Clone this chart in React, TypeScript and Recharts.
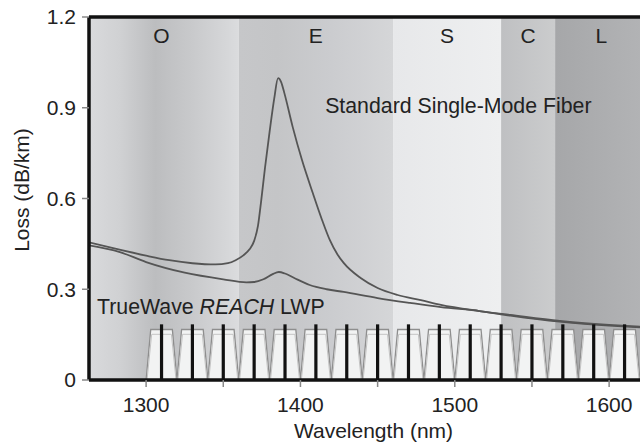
import React from 'react';
import {
  ComposedChart,
  Line,
  Area,
  XAxis,
  YAxis,
  ReferenceArea,
  ReferenceLine,
  ReferenceDot,
} from 'recharts';

// ITU bands (nm)
const bandNames = ['O', 'E', 'S', 'C', 'L'];
const bandStart = [1260, 1360, 1460, 1530, 1565];
const bandEnd = [1360, 1460, 1530, 1565, 1625];

// Standard single-mode fiber loss curve (water peak near 1385 nm)
const ssmfWl = [1263, 1280, 1300, 1315, 1330, 1345, 1353, 1358, 1363, 1367, 1370, 1372.5, 1374.5, 1377, 1380, 1383, 1385.5, 1387.5, 1389.5, 1395, 1401, 1408, 1414, 1419, 1424, 1428, 1439, 1450, 1463, 1478, 1491, 1516, 1536, 1568, 1600, 1620];
const ssmfLoss = [0.455, 0.434, 0.411, 0.396, 0.386, 0.382, 0.386, 0.396, 0.412, 0.432, 0.46, 0.51, 0.59, 0.7, 0.82, 0.93, 0.998, 0.985, 0.95, 0.836, 0.727, 0.618, 0.529, 0.463, 0.415, 0.387, 0.337, 0.304, 0.281, 0.264, 0.248, 0.228, 0.215, 0.195, 0.182, 0.176];

// TrueWave REACH low-water-peak fiber
const lwpWl = [1263, 1283, 1300, 1325, 1350, 1365, 1370, 1376, 1382, 1386, 1390, 1396, 1406, 1417, 1428, 1450, 1471, 1491, 1516, 1536, 1568, 1600, 1620];
const lwpLoss = [0.445, 0.423, 0.39, 0.355, 0.333, 0.323, 0.324, 0.333, 0.35, 0.357, 0.352, 0.337, 0.314, 0.3, 0.291, 0.271, 0.255, 0.241, 0.228, 0.213, 0.193, 0.18, 0.174];

// CWDM channel grid
const channelNm = [1310, 1330, 1350, 1370, 1390, 1410, 1430, 1450, 1470, 1490, 1510, 1530, 1550, 1570, 1590, 1610];
const channelMarkerLoss = 0.184;
const passbandOffset = [-10, -7, 7, 10];
const passbandLoss = [0, 0.167, 0.167, 0];
const innerOffset = [-9.4, -6.4, 6.4, 9.4];
const innerLoss = [0, 0.151, 0.151, 0];

const xTicks = [1300, 1350, 1400, 1450, 1500, 1550, 1600];
const yTicks = [0, 0.3, 0.6, 0.9, 1.2];

const ssmfData = ssmfWl.map((wl, i) => ({ wl, loss: ssmfLoss[i] }));
const lwpData = lwpWl.map((wl, i) => ({ wl, loss: lwpLoss[i] }));
const filterData = channelNm.flatMap((c) => passbandOffset.map((o, i) => ({ wl: c + o, loss: passbandLoss[i] })));
const innerData = channelNm.flatMap((c) => innerOffset.map((o, i) => ({ wl: c + o, loss: innerLoss[i] })));

const FONT = '"Liberation Sans", Arial, Helvetica, sans-serif';
const TEXT = '#222';
const FS = 21;

const bandStops: Record<string, [number, string][]> = {
  O: [[0, '#d9dadc'], [0.05, '#d8d9db'], [0.23, '#d0d1d3'], [0.46, '#bcbdbf'], [0.57, '#c2c3c5'], [0.69, '#c8c9cb'], [0.93, '#d6d7d9'], [1, '#dbdcde']],
  E: [[0, '#c6c7c9'], [0.25, '#c4c5c7'], [0.6, '#cbcccf'], [1, '#d5d6d8']],
  S: [[0, '#e7e8ea'], [1, '#eeeff0']],
  C: [[0, '#bfc0c2'], [1, '#cbcccd']],
  L: [[0, '#a6a7a9'], [1, '#b3b4b6']],
};

const App: React.FC = () => {
  return (
    <div style={{ width: 640, height: 443, background: '#fff' }}>
      <style>{'body{margin:0}'}</style>
      <ComposedChart width={640} height={443} margin={{ top: 17, right: 0, bottom: 0, left: 0 }}>
        <defs>
          {bandNames.map((b) => (
            <linearGradient key={b} id={`band-${b}`} x1="0" y1="0" x2="1" y2="0">
              {bandStops[b].map(([o, c], i) => (
                <stop key={i} offset={o} stopColor={c} />
              ))}
            </linearGradient>
          ))}
        </defs>

        {bandNames.map((b, i) => (
          <ReferenceArea
            key={b}
            x1={bandStart[i]}
            x2={bandEnd[i]}
            y1={0}
            y2={1.2}
            ifOverflow="hidden"
            fill={`url(#band-${b})`}
            fillOpacity={1}
            stroke="none"
            zIndex={-50}
            label={{ value: b, position: 'insideTop', offset: 11, fill: TEXT, fontSize: FS, fontFamily: FONT }}
          />
        ))}

        <XAxis
          type="number"
          dataKey="wl"
          domain={[1263, 1620]}
          allowDataOverflow
          ticks={xTicks}
          tickFormatter={(v: number) => (v % 100 === 0 ? String(v) : '')}
          height={63}
          axisLine={{ stroke: '#111', strokeWidth: 3.5 }}
          tickLine={{ stroke: '#888', strokeWidth: 1.5 }}
          tickSize={7}
          tickMargin={10}
          tick={{ fill: TEXT, fontSize: FS, fontFamily: FONT }}
          label={{ value: 'Wavelength (nm)', position: 'insideBottom', offset: 5, dx: 9, fill: TEXT, fontSize: FS, fontFamily: FONT }}
        />
        <YAxis
          type="number"
          domain={[0, 1.2]}
          ticks={yTicks}
          tickFormatter={(v: number) => (v === 0 ? '0' : v.toFixed(1))}
          width={89}
          axisLine={{ stroke: '#111', strokeWidth: 3.5 }}
          tickLine={{ stroke: '#888', strokeWidth: 1.5 }}
          tickSize={7}
          tickMargin={6}
          tick={{ fill: TEXT, fontSize: FS, fontFamily: FONT }}
          label={{
            content: () => (
              <text x={21} y={190} transform="rotate(-90 21 190)" textAnchor="middle" dominantBaseline="central" fill={TEXT} fontSize={FS} fontFamily={FONT}>
                Loss (dB/km)
              </text>
            ),
          }}
        />

        <ReferenceLine y={1.2} stroke="#111" strokeWidth={3.5} />

        <Area
          data={filterData}
          dataKey="loss"
          type="linear"
          fill="#f2f3f3"
          fillOpacity={1}
          stroke="#8e8e8e"
          strokeWidth={1.3}
          isAnimationActive={false}
          dot={false}
          activeDot={false}
        />
        <Line data={innerData} dataKey="loss" type="linear" stroke="#c4c4c4" strokeWidth={1} dot={false} isAnimationActive={false} />

        {channelNm.map((c) => (
          <ReferenceLine
            key={c}
            segment={[{ x: c, y: 0 }, { x: c, y: channelMarkerLoss }]}
            stroke="#111"
            strokeWidth={3.2}
            zIndex={450}
          />
        ))}

        <Line data={lwpData} dataKey="loss" type="monotone" stroke="#555" strokeWidth={1.8} dot={false} isAnimationActive={false} />
        <Line data={ssmfData} dataKey="loss" type="monotone" stroke="#555" strokeWidth={1.8} dot={false} isAnimationActive={false} />

        <ReferenceDot
          x={1416}
          y={0.883}
          r={0}
          fill="none"
          stroke="none"
          label={{
            content: (p: any) => (
              <text x={p.viewBox.x} y={p.viewBox.y} fill={TEXT} fontSize={21.3} fontFamily={FONT}>
                Standard Single-Mode Fiber
              </text>
            ),
          }}
        />
        <ReferenceDot
          x={1268.2}
          y={0.218}
          r={0}
          fill="none"
          stroke="none"
          label={{
            content: (p: any) => (
              <text x={p.viewBox.x} y={p.viewBox.y} fill={TEXT} fontSize={21.3} fontFamily={FONT}>
                <tspan>TrueWave </tspan>
                <tspan fontStyle="italic">REACH</tspan>
                <tspan> LWP</tspan>
              </text>
            ),
          }}
        />
      </ComposedChart>
    </div>
  );
};

export default App;
